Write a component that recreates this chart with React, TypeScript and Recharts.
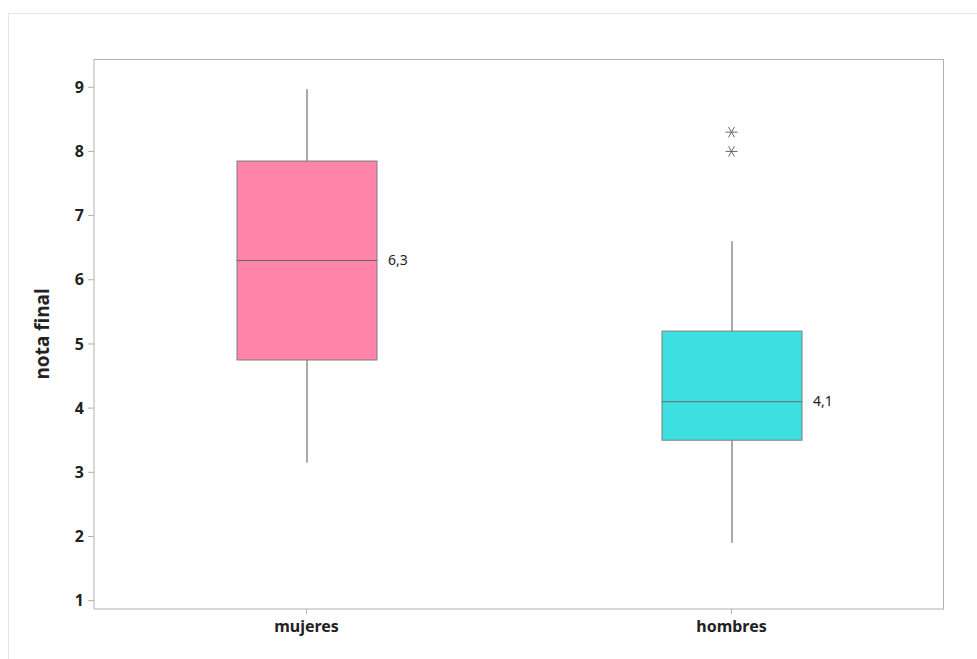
import React from "react";
import {
  ComposedChart, Bar, Scatter, XAxis, YAxis,
} from "recharts";

// box plot values
const groups = ["mujeres", "hombres"];
const whiskerLow = [3.15, 1.9];
const q1 = [4.75, 3.5];
const median = [6.3, 4.1];
const q3 = [7.85, 5.2];
const whiskerHigh = [8.97, 6.6];
const outlierA = [null, 8.3];
const outlierB = [null, 8.0];
const boxColors = ["#ff84aa", "#3ddfe0"];
const yTicks = [1, 2, 3, 4, 5, 6, 7, 8, 9];

const data = groups.map((name, i) => ({
  name,
  range: [whiskerLow[i], whiskerHigh[i]],
  lo: whiskerLow[i],
  q1: q1[i],
  med: median[i],
  q3: q3[i],
  hi: whiskerHigh[i],
  outA: outlierA[i],
  outB: outlierB[i],
  color: boxColors[i],
}));

const FONT = "'Noto Sans', 'Open Sans', sans-serif";

function BoxShape(props: any) {
  const { x, y, width, height, payload } = props;
  const { lo, hi, q1, q3, med, color } = payload;
  const unit = height / (hi - lo);
  const yOf = (v: number) => y + (hi - v) * unit;
  const cx = x + width / 2;
  return (
    <g>
      <line x1={cx} x2={cx} y1={yOf(hi)} y2={yOf(q3)} stroke="#555" strokeWidth={1} />
      <line x1={cx} x2={cx} y1={yOf(q1)} y2={yOf(lo)} stroke="#555" strokeWidth={1} />
      <rect
        x={x}
        y={yOf(q3)}
        width={width}
        height={yOf(q1) - yOf(q3)}
        fill={color}
        stroke="#7d7d7d"
        strokeWidth={1}
      />
      <line x1={x} x2={x + width} y1={yOf(med)} y2={yOf(med)} stroke="#666" strokeWidth={1} />
      <text
        x={x + width + 11}
        y={yOf(med)}
        dy="0.3em"
        fontSize={14}
        fontFamily={FONT}
        fill="#222"
      >
        {String(med).replace(".", ",")}
      </text>
    </g>
  );
}

function Asterisk(props: any) {
  const { cx, cy } = props;
  if (cx == null || cy == null) return null;
  const r = 6;
  const dx = r * Math.cos(Math.PI / 3);
  const dy = r * Math.sin(Math.PI / 3);
  return (
    <g stroke="#666" strokeWidth={1}>
      <line x1={cx - r} x2={cx + r} y1={cy} y2={cy} />
      <line x1={cx - dx} x2={cx + dx} y1={cy - dy} y2={cy + dy} />
      <line x1={cx - dx} x2={cx + dx} y1={cy + dy} y2={cy - dy} />
    </g>
  );
}

const tickStyle = { fill: "#222", fontSize: 16, fontWeight: 700, fontFamily: FONT };

export default function App() {
  return (
    <div style={{ position: "absolute", left: 0, top: 0, width: 977, height: 659, background: "#fff" }}>
      <div
        style={{
          position: "absolute",
          left: 8,
          top: 13,
          width: 990,
          height: 700,
          border: "1px solid #e6e6e6",
          boxSizing: "border-box",
        }}
      />
      <div style={{ position: "absolute", left: 0, top: 0 }}>
        <ComposedChart
          width={977}
          height={659}
          data={data}
          margin={{ top: 59, right: 33, bottom: 0, left: 0 }}
          barSize={140}
        >
          <XAxis
            dataKey="name"
            height={50}
            tick={tickStyle}
            tickSize={5}
            tickMargin={7}
            axisLine={{ stroke: "#b0b0b0" }}
            tickLine={{ stroke: "#b0b0b0" }}
          />
          <YAxis
            type="number"
            domain={[0.87, 9.44]}
            ticks={yTicks}
            allowDataOverflow
            width={94}
            tick={tickStyle}
            tickSize={6}
            tickMargin={4}
            axisLine={{ stroke: "#b0b0b0" }}
            tickLine={{ stroke: "#b0b0b0" }}
            label={{
              value: "nota final",
              angle: -90,
              position: "insideLeft",
              offset: 42,
              style: { fill: "#222", fontSize: 19, fontWeight: 700, fontFamily: FONT, textAnchor: "middle" },
            }}
          />
          <Bar dataKey="range" shape={<BoxShape />} isAnimationActive={false} />
          <Scatter dataKey="outA" shape={<Asterisk />} isAnimationActive={false} />
          <Scatter dataKey="outB" shape={<Asterisk />} isAnimationActive={false} />
        </ComposedChart>
      </div>
      {/* plot frame, top and right edges */}
      <div
        style={{
          position: "absolute",
          left: 94,
          top: 59,
          width: 850,
          height: 550,
          borderTop: "1px solid #b0b0b0",
          borderRight: "1px solid #b0b0b0",
          boxSizing: "border-box",
          pointerEvents: "none",
        }}
      />
    </div>
  );
}
